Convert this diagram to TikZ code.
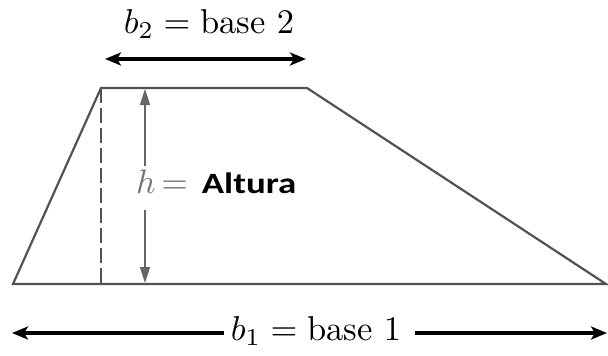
\documentclass[tikz,border=0pt]{standalone}
\usepackage{graphicx}
\usepackage{fontspec}
\newfontfamily\altfont[FakeStretch=1.25]{Carlito}
\usetikzlibrary{arrows.meta}
\tikzset{
  edge/.style={draw=black!68, line width=2.2pt, line join=miter},
  dimarrow/.style={draw=black, line width=3.4pt, -{Stealth[length=16pt,width=13pt,inset=4pt]}},
  harrow/.style={draw=black!60, line width=1.6pt, -{Triangle[length=16pt,width=10pt]}},
  hidden/.style={draw=black!68, line width=2.2pt, dash pattern=on 15pt off 5pt},
  serif/.style={inner sep=0pt},
}
\begin{document}
\begin{tikzpicture}[x=1pt,y=-1pt]
\useasboundingbox (0,0) rectangle (608,356);
% trapezoid corners
\coordinate (BL) at (13,284);
\coordinate (TL) at (101,88);
\coordinate (TR) at (307,88);
\coordinate (BR) at (606,284);
\coordinate (DB) at (101,284);
\draw[edge] (BL) -- (TL) -- (TR) -- (BR) -- cycle;
\draw[hidden] (TL) -- (DB);
% height arrow
\coordinate (HT) at (145,89);
\coordinate (HU) at (145,166);
\coordinate (HL) at (145,210);
\coordinate (HB) at (145,283);
\draw[harrow] (HU) -- (HT);
\draw[harrow] (HL) -- (HB);
\node[anchor=base west, inner sep=0pt] (hlab) at (136,193)
  {\textcolor{black!55}{\scalebox{3.4}{$h\,{=}$}}\hspace{14pt}{\altfont\bfseries\fontsize{29.5}{34}\selectfont Altura}};
% base 2
\node[serif, anchor=base] (b2lab) at (209,33) {\scalebox{3.45}{$b_2 = \mathrm{base}\ 2$}};
\coordinate (B2L) at (105,59);
\coordinate (B2R) at (306,59);
\draw[dimarrow] (207,59) -- (B2L);
\draw[dimarrow] (207,59) -- (B2R);
% base 1
\node[serif, anchor=base] (b1lab) at (316,340) {\scalebox{3.45}{$b_1 = \mathrm{base}\ 1$}};
\coordinate (B1L) at (12,333);
\coordinate (B1R) at (607,333);
\draw[dimarrow] ([xshift=-7pt]b1lab.west |- B1L) -- (B1L);
\draw[dimarrow] ([xshift=14pt]b1lab.east |- B1R) -- (B1R);
\end{tikzpicture}
\end{document}
